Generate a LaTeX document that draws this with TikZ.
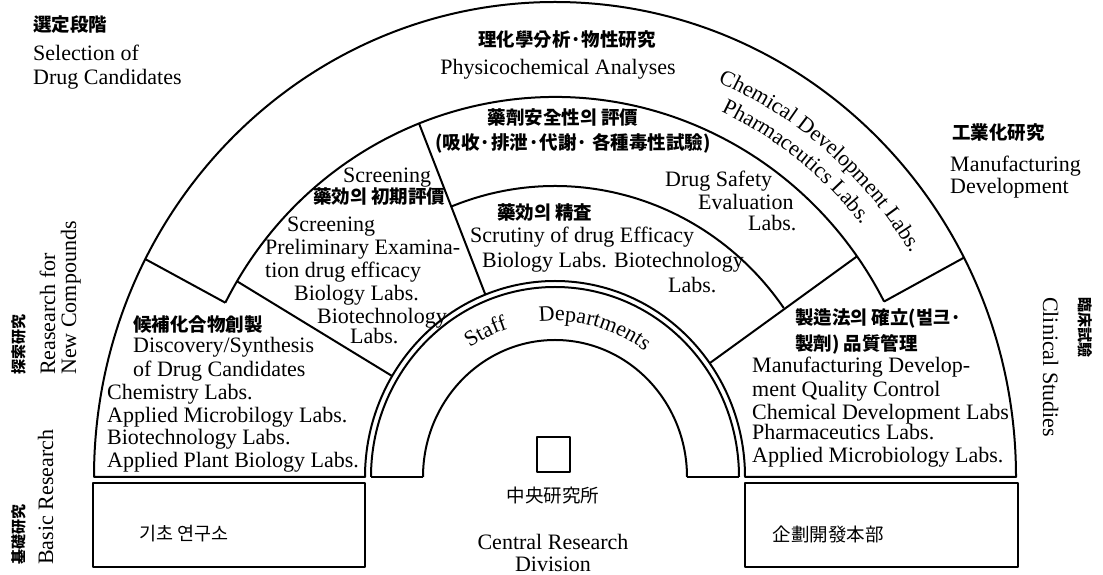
\documentclass[tikz,border=0pt]{standalone}
\usepackage{fontspec}
\setmainfont{Liberation Serif}
\newfontfamily\cjk{Noto Sans CJK KR}
\usetikzlibrary{decorations.text}
\begin{document}
\begin{tikzpicture}[x=1pt,y=1pt,
  ln/.style={line width=2pt, line join=round},
  en/.style={font=\fontsize{22}{23}\selectfont, inner sep=0pt},
  kr/.style={font=\cjk\bfseries\fontsize{18.5}{20}\selectfont, inner sep=0pt},
  krl/.style={font=\cjk\fontsize{18.5}{20}\selectfont, inner sep=0pt},
  krs/.style={font=\cjk\bfseries\fontsize{15}{18}\selectfont, inner sep=0pt},
]
\useasboundingbox (0,0) rectangle (1103,575);
\coordinate (C) at (555,98);
% key points
\path (C) ++(152.7:461 and 475) coordinate (r1L)
      (C) ++(152.7:371 and 380) coordinate (r2L)
      (C) ++(149:371 and 380) coordinate (r2La)
      (C) ++(149:190 and 196) coordinate (rsLa)
      (C) ++(111.5:371 and 380) coordinate (r2M)
      (C) ++(111.5:190 and 196) coordinate (rsM)
      (C) ++(35.5:371 and 380) coordinate (r2Ra)
      (C) ++(35.5:190 and 196) coordinate (rsRa)
      (C) ++(27.5:461 and 475) coordinate (r1R)
      (C) ++(27.5:371 and 380) coordinate (r2R);
% outer outline
\draw[ln] (94,98) arc[start angle=180,end angle=0,x radius=461,y radius=475]
  -- (745,98) arc[start angle=0,end angle=180,x radius=190,y radius=196] -- cycle;
% ring arcs
\draw[ln] (r2L) arc[start angle=152.7,end angle=27.5,x radius=371,y radius=380];
\draw[ln] (C) ++(111.5:281 and 291) arc[start angle=111.5,end angle=35.5,x radius=281,y radius=291];
% radial dividers
\draw[ln] (r1L) -- (r2L);
\draw[ln] (r2La) -- (rsLa);
\draw[ln] (r2M) -- (rsM);
\draw[ln] (r2Ra) -- (rsRa);
\draw[ln] (r1R) -- (r2R);
% staff ring
\draw[ln] (739,98) arc[start angle=0,end angle=180,x radius=184,y radius=190];
\draw[ln] (687,98) arc[start angle=0,end angle=180,x radius=132,y radius=137];
\draw[ln] (371,98) -- (423,98);
\draw[ln] (687,98) -- (739,98);
% square
\draw[ln] (537,103) rectangle (570,138);
% lower boxes
\draw[ln] (93,8) rectangle (365,92);
\draw[ln] (745,8) rectangle (1018,92);

% curved texts
\path[decorate,decoration={text along path,text={|\fontsize{22}{23}\selectfont|Chemical Development Labs.}}]
  (C) ++(67:417 and 429) arc[start angle=67,end angle=15,x radius=417,y radius=429];
\path[decorate,decoration={text along path,text={|\fontsize{22}{23}\selectfont|Pharmaceutics Labs.}}]
  (C) ++(65:393 and 403) arc[start angle=65,end angle=20,x radius=393,y radius=403];
\path[decorate,decoration={text along path,text={|\fontsize{22}{23}\selectfont|Staff}}]
  (C) ++(124:152 and 156) arc[start angle=124,end angle=100,x radius=152,y radius=156];
\path[decorate,decoration={text along path,text={|\fontsize{22}{23}\selectfont|Departments}}]
  (C) ++(96:152 and 156) arc[start angle=96,end angle=35,x radius=152,y radius=156];

% top-left
\node[kr,anchor=west] (t1) at (33,550) {選定段階};
\node[en,anchor=base west] (t2) at (33,514) {Selection of};
\node[en,anchor=base west] (t3) at (33,490) {Drug Candidates};
% top
\node[kr] (p1) at (567,535) {理化學分析·物性研究};
\node[en,anchor=base] (p2) at (558,500) {Physicochemical Analyses};
% safety
\node[kr] (s1) at (563,457) {藥劑安全性의 評價};
\node[kr] (s2) at (573,432) {(吸收·排泄·代謝· 各種毒性試驗)};
\node[en,anchor=base west] (s3) at (665,388) {Drug Safety};
\node[en,anchor=base west] (s4) at (698,365) {Evaluation};
\node[en,anchor=base west] (s5) at (748,344) {Labs.};
% manufacturing dev top right
\node[kr,anchor=west] (m1) at (952,442) {工業化研究};
\node[en,anchor=base west] (m2) at (950,403) {Manufacturing};
\node[en,anchor=base west] (m3) at (950,381) {Development};
% screening
\node[en,anchor=base west] (c1) at (343,392) {Screening};
\node[kr,anchor=west] (c2) at (313,378) {藥効의 初期評價};
\node[en,anchor=base west] (c3) at (287,343) {Screening};
\node[en,anchor=base west] (c4) at (265,320) {Preliminary Examina-};
\node[en,anchor=base west] (c5) at (265,297) {tion drug efficacy};
\node[en,anchor=base west] (c6) at (294,274) {Biology Labs.};
\node[en,anchor=base west] (c7) at (317,251) {Biotechnology};
\node[en,anchor=base west] (c8) at (350,231) {Labs.};
% discovery
\node[kr,anchor=west] (d1) at (133,250) {候補化合物創製};
\node[en,anchor=base west] (d2) at (133,222) {Discovery/Synthesis};
\node[en,anchor=base west] (d3) at (133,198) {of Drug Candidates};
\node[en,anchor=base west] (d4) at (107,175) {Chemistry Labs.};
\node[en,anchor=base west] (d5) at (107,152) {Applied Microbilogy Labs.};
\node[en,anchor=base west] (d6) at (107,130) {Biotechnology Labs.};
\node[en,anchor=base west] (d7) at (107,107) {Applied Plant Biology Labs.};
% scrutiny
\node[kr,anchor=west] (e1) at (497,363) {藥効의 精査};
\node[en,anchor=base west] (e2) at (470,332) {Scrutiny of drug Efficacy};
\node[en,anchor=base west] (e3) at (482,307) {Biology Labs. Biotechnology};
\node[en,anchor=base west] (e4) at (668,282) {Labs.};
% manufacturing sector
\node[kr,anchor=west] (f1) at (795,257) {製造法의 確立(벌크·};
\node[kr,anchor=west] (f2) at (795,231) {製劑) 品質管理};
\node[en,anchor=base west] (f3) at (752,202) {Manufacturing Develop-};
\node[en,anchor=base west] (f4) at (752,178) {ment Quality Control};
\node[en,anchor=base west] (f5) at (752,155) {Chemical Development Labs};
\node[en,anchor=base west] (f6) at (752,135) {Pharmaceutics Labs.};
\node[en,anchor=base west] (f7) at (752,112) {Applied Microbiology Labs.};
% bottom
\node[krl] (b1) at (553,79) {中央研究所};
\node[en,anchor=base] (b2) at (553,25) {Central Research};
\node[en,anchor=base] (b3) at (553,3) {Division};
\node[krl] (b4) at (184,41) {기초 연구소};
\node[krl] (b5) at (828,41) {企劃開發本部};
% left rotated
\node[krs,rotate=90,anchor=west] (l1) at (19,200) {探索研究};
\node[en,rotate=90,anchor=base west] (l2) at (55,200) {Reasearch for};
\node[en,rotate=90,anchor=base west] (l3) at (76,200) {New Compounds};
\node[krs,rotate=90,anchor=west] (l4) at (19,10) {基礎研究};
\node[en,rotate=90,anchor=base west] (l5) at (53,10) {Basic Research};
% right rotated
\node[en,rotate=-90,anchor=base west] (r1) at (1043,278) {Clinical Studies};
\node[krs,rotate=-90,anchor=west] (r2) at (1085,278) {臨床試驗};
\end{tikzpicture}
\end{document}
